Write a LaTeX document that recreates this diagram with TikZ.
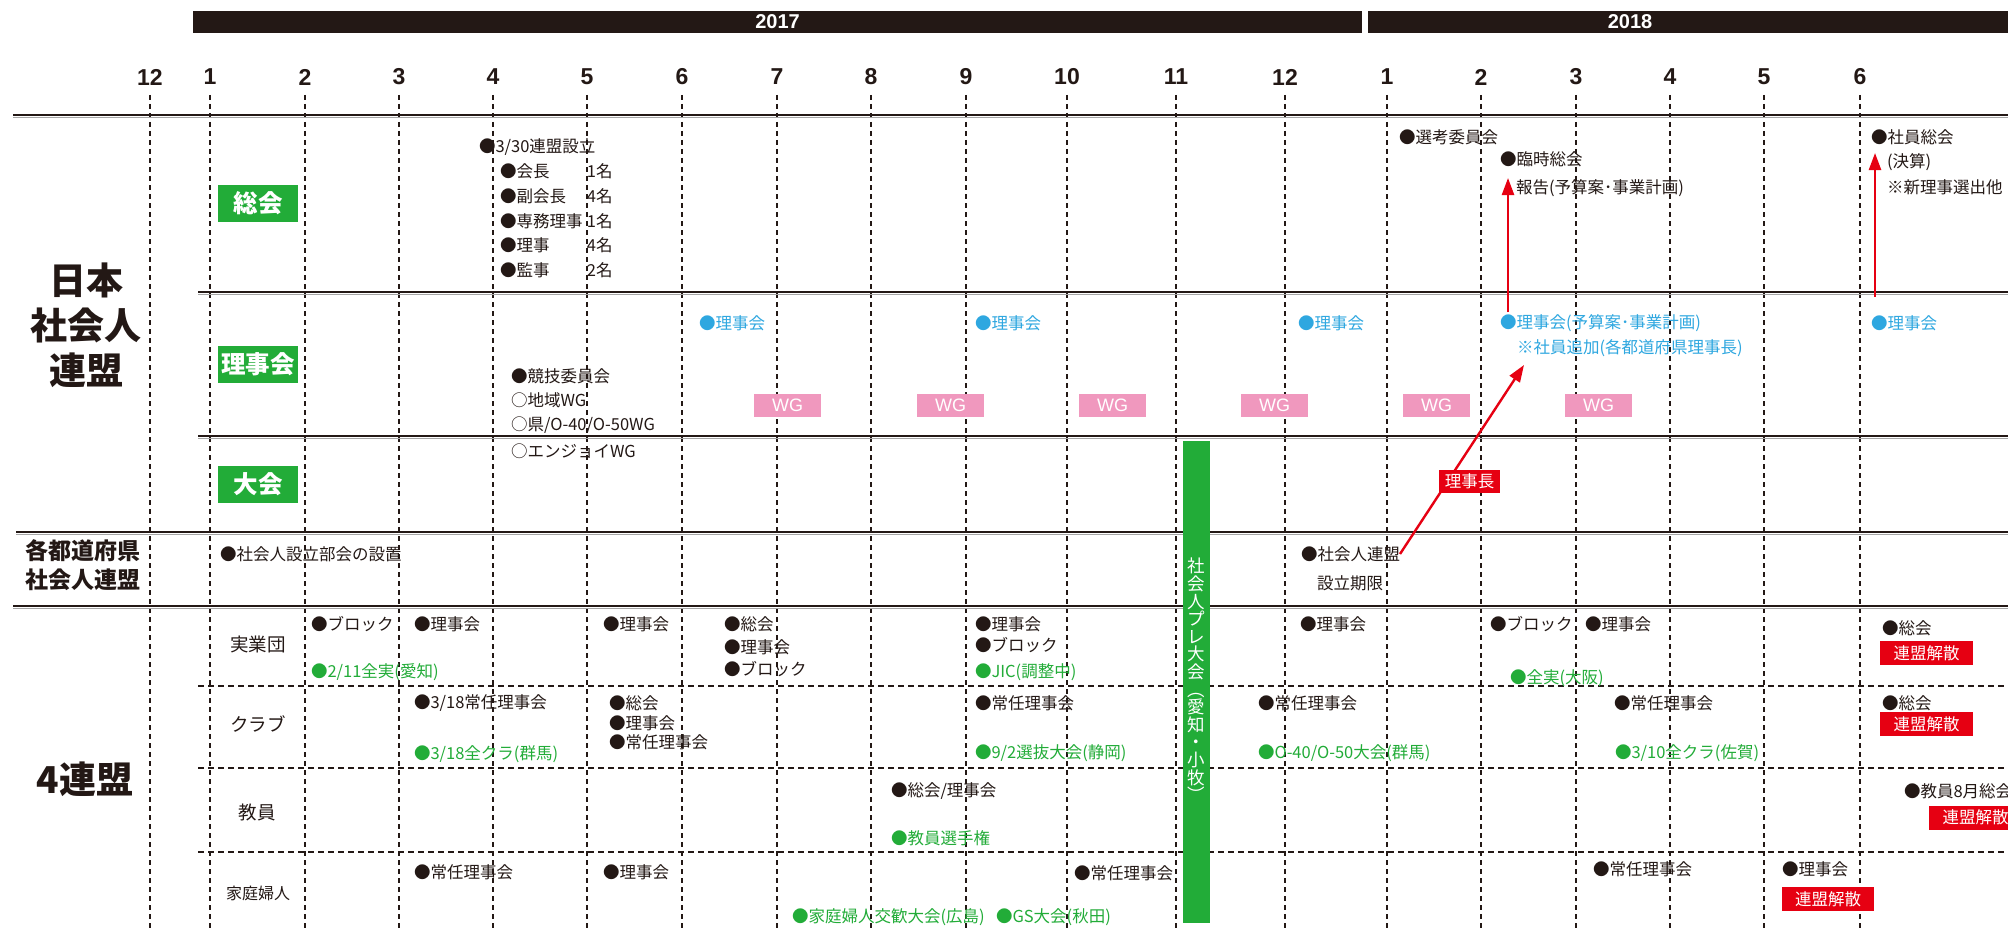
\documentclass[tikz,border=0pt]{standalone}
\usepackage{fontspec}
\usetikzlibrary{arrows.meta}
\newfontfamily\jpn{Noto Sans CJK JP}
\newfontfamily\jpk{Noto Sans CJK JP Black}
\newfontfamily\latn{Liberation Sans}
\definecolor{ink}{RGB}{35,24,21}
\definecolor{grn}{RGB}{34,172,56}
\definecolor{cyn}{RGB}{46,167,224}
\definecolor{pnk}{RGB}{240,152,190}
\definecolor{rd}{RGB}{230,0,18}
\tikzset{
 base/.style={inner sep=0pt, outer sep=0pt},
 tx/.style={base, anchor=west, text=ink, font=\jpn\fontsize{16.5}{18}\selectfont},
 txb/.style={tx, text=cyn},
 txg/.style={tx, text=grn},
 gbox/.style={base, fill=grn, text=white, minimum width=80pt, minimum height=37pt, font=\jpn\bfseries\fontsize{24.5}{26}\selectfont},
 wgbox/.style={base, fill=pnk, text=white, minimum width=67pt, minimum height=23pt, font=\latn\fontsize{18}{20}\selectfont},
 rbox/.style={base, fill=rd, text=white, minimum height=24pt, font=\jpn\fontsize{16.5}{18}\selectfont},
 big/.style={base, text=ink, align=center, font=\jpk\fontsize{37}{45}\selectfont},
 mid/.style={base, text=ink, align=center, font=\jpk\fontsize{23}{29}\selectfont},
 sub/.style={base, text=ink, font=\jpn\fontsize{18.5}{20}\selectfont},
 month/.style={base, text=ink, font=\latn\bfseries\fontsize{23}{25}\selectfont},
 yr/.style={base, text=white, font=\latn\bfseries\fontsize{20}{20}\selectfont},
 grid/.style={draw=ink, line width=1.1pt, dash pattern=on 5pt off 4pt},
 hgrid/.style={draw=ink, line width=1.2pt, dash pattern=on 6pt off 4pt},
 rule/.style={draw=ink, line width=2.8pt},
 shade/.style={draw=black!35, line width=1pt},
 redarrow/.style={draw=rd, line width=2.4pt, -{Triangle[length=17pt,width=12pt]}},
 vtxt/.style={base, text=white, align=center, font=\jpn\fontsize{17.5}{17.6}\selectfont},
}
\begin{document}
\begin{tikzpicture}[x=1pt,y=-1pt]
\useasboundingbox (0,0) rectangle (2008,931);
\fill[white] (0,0) rectangle (2008,931);
% year bars
\node[yr, fill=ink, minimum width=1169pt, minimum height=22pt] (y17) at (777.5,22) {2017};
\fill[ink] (1368,11) rectangle (2008,33);
\node[yr] (y18) at (1630,22) {2018};
% months and grid
\foreach \x/\m [count=\i] in {150/12,210/1,305/2,399/3,493/4,587/5,682/6,777/7,871/8,966/9,1067/10,1176/11,1285/12,1387/1,1481/2,1576/3,1670/4,1764/5,1860/6}{
  \node[month] (m\i) at (\x,77) {\m};
  \draw[grid] (\x,95) -- (\x,931);
}
% rules
\foreach \xa/\ya in {13/115,198/292,198/436,16/532,13/606}{
  \draw[shade] (\xa,{\ya+2.2}) -- (2008,{\ya+2.2});
  \draw[rule] (\xa,\ya) -- (2008,\ya);
}
\draw[hgrid] (198,686) -- (2008,686);
\draw[hgrid] (198,768) -- (2008,768);
\draw[hgrid] (198,852) -- (2008,852);
% left labels
\node[big] (nihon) at (86,325) {日本\\社会人\\連盟};
\node[mid] (kaku) at (83,565.5) {各都道府県\\社会人連盟};
\node[big] (yon) at (85,779) {4連盟};
\node[gbox] (sokai) at (258,203.5) {総会};
\node[gbox] (rijikai) at (258,364.5) {理事会};
\node[gbox] (taikai) at (258,484.5) {大会};
\node[sub] (jitsu) at (258,644) {実業団};
\node[sub] (club) at (258,724) {クラブ};
\node[sub] (kyoin) at (257,812) {教員};
\node[sub, font=\jpn\fontsize{16}{18}\selectfont] (katei) at (258,893) {家庭婦人};
% 総会 row
\node[tx] (n1) at (479,147) {●3/30連盟設立};
\node[tx] (n2) at (500,171) {\makebox[87pt][l]{●会長}1名};
\node[tx] (n3) at (500,196) {\makebox[87pt][l]{●副会長}4名};
\node[tx] (n4) at (500,221) {\makebox[87pt][l]{●専務理事}1名};
\node[tx] (n5) at (500,245) {\makebox[87pt][l]{●理事}4名};
\node[tx] (n6) at (500,270) {\makebox[87pt][l]{●監事}2名};
\node[tx] (n7) at (1399,137) {●選考委員会};
\node[tx] (n8) at (1500,159) {●臨時総会};
\node[tx] (n9) at (1516,188) {報告(予算案･事業計画)};
\node[tx] (n10) at (1871,137) {●社員総会};
\node[tx] (n11) at (1887,162) {(決算)};
\node[tx] (n12) at (1887,187) {※新理事選出他};
% 理事会 row
\node[txb] (b1) at (699,323) {●理事会};
\node[txb] (b2) at (975,323) {●理事会};
\node[txb] (b3) at (1298,323) {●理事会};
\node[txb] (b4) at (1500,323) {●理事会(予算案･事業計画)};
\node[txb] (b5) at (1517,348) {※社員追加(各都道府県理事長)};
\node[txb] (b6) at (1871,323) {●理事会};
\node[tx] (k1) at (511,376) {●競技委員会};
\node[tx] (k2) at (511,400) {○地域WG};
\node[tx] (k3) at (511,425) {○県/O-40/O-50WG};
\node[tx] (k4) at (511,451) {○エンジョイWG};
\foreach \x [count=\i] in {787.5,950.5,1112.5,1274.5,1436.5,1598.5}{
  \node[wgbox] (wg\i) at (\x,405.5) {WG};
}
% 各都道府県 row
\node[tx] (p1) at (220,554) {●社会人設立部会の設置};
\node[tx] (p2) at (1301,554) {●社会人連盟};
\node[tx] (p3) at (1317,583) {設立期限};
% 実業団
\node[tx] (j1) at (311,624) {●ブロック};
\node[tx] (j2) at (414,624) {●理事会};
\node[tx] (j3) at (603,624) {●理事会};
\node[tx] (j4) at (724,624) {●総会};
\node[tx] (j5) at (724,647) {●理事会};
\node[tx] (j6) at (724,669) {●ブロック};
\node[tx] (j7) at (975,624) {●理事会};
\node[tx] (j8) at (975,645) {●ブロック};
\node[tx] (j9) at (1300,624) {●理事会};
\node[tx] (j10) at (1490,624) {●ブロック};
\node[tx] (j11) at (1585,624) {●理事会};
\node[tx] (j12) at (1882,628) {●総会};
\node[txg] (jg1) at (311,672) {●2/11全実(愛知)};
\node[txg] (jg2) at (975,672) {●JIC(調整中)};
\node[txg] (jg3) at (1510,678) {●全実(大阪)};
\node[rbox, minimum width=93pt] (kai1) at (1926.5,653) {連盟解散};
% クラブ
\node[tx] (c1) at (414,703) {●3/18常任理事会};
\node[tx] (c2) at (609,703) {●総会};
\node[tx] (c3) at (609,723) {●理事会};
\node[tx] (c4) at (609,742) {●常任理事会};
\node[tx] (c5) at (975,703) {●常任理事会};
\node[tx] (c6) at (1258,703) {●常任理事会};
\node[tx] (c7) at (1614,703) {●常任理事会};
\node[tx] (c8) at (1882,703) {●総会};
\node[txg] (cg1) at (414,754) {●3/18全クラ(群馬)};
\node[txg] (cg2) at (975,753) {●9/2選抜大会(静岡)};
\node[txg] (cg3) at (1258,753) {●O-40/O-50大会(群馬)};
\node[txg] (cg4) at (1615,753) {●3/10全クラ(佐賀)};
\node[rbox, minimum width=93pt] (kai2) at (1926.5,724) {連盟解散};
% 教員
\node[tx] (e1) at (891,791) {●総会/理事会};
\node[txg] (e2) at (891,838) {●教員選手権};
\node[tx] (e3) at (1904,791) {●教員8月総会};
\node[rbox, minimum width=93pt] (kai3) at (1975.5,817.5) {連盟解散};
% 家庭婦人
\node[tx] (f1) at (414,872) {●常任理事会};
\node[tx] (f2) at (603,872) {●理事会};
\node[tx] (f3) at (1074,873) {●常任理事会};
\node[tx] (f4) at (1593,869) {●常任理事会};
\node[tx] (f5) at (1782,869) {●理事会};
\node[txg] (fg1) at (792,917) {●家庭婦人交歓大会(広島)};
\node[txg] (fg2) at (996,917) {●GS大会(秋田)};
\node[rbox, minimum width=92pt] (kai4) at (1828,899) {連盟解散};
% green vertical bar
\node[base, fill=grn, minimum width=27pt, minimum height=482pt] (bar) at (1196.5,682) {};
\node[vtxt] (vtext) at (1196.5,680) {社\\会\\人\\プ\\レ\\大\\会\\︵\\愛\\知\\・\\小\\牧\\︶};
% red arrows
\coordinate (a1tip) at (1508,178);
\coordinate (a1start) at (1508,312);
\draw[redarrow] (a1start) -- (a1tip);
\coordinate (a2tip) at (1875,153);
\coordinate (a2start) at (1875,297);
\draw[redarrow] (a2start) -- (a2tip);
\coordinate (a3tip) at (1524,365);
\draw[redarrow] (p2.east) -- (a3tip);
\node[rbox, minimum width=61pt, minimum height=23pt] (rijicho) at (1469.5,481.5) {理事長};
\end{tikzpicture}
\end{document}
